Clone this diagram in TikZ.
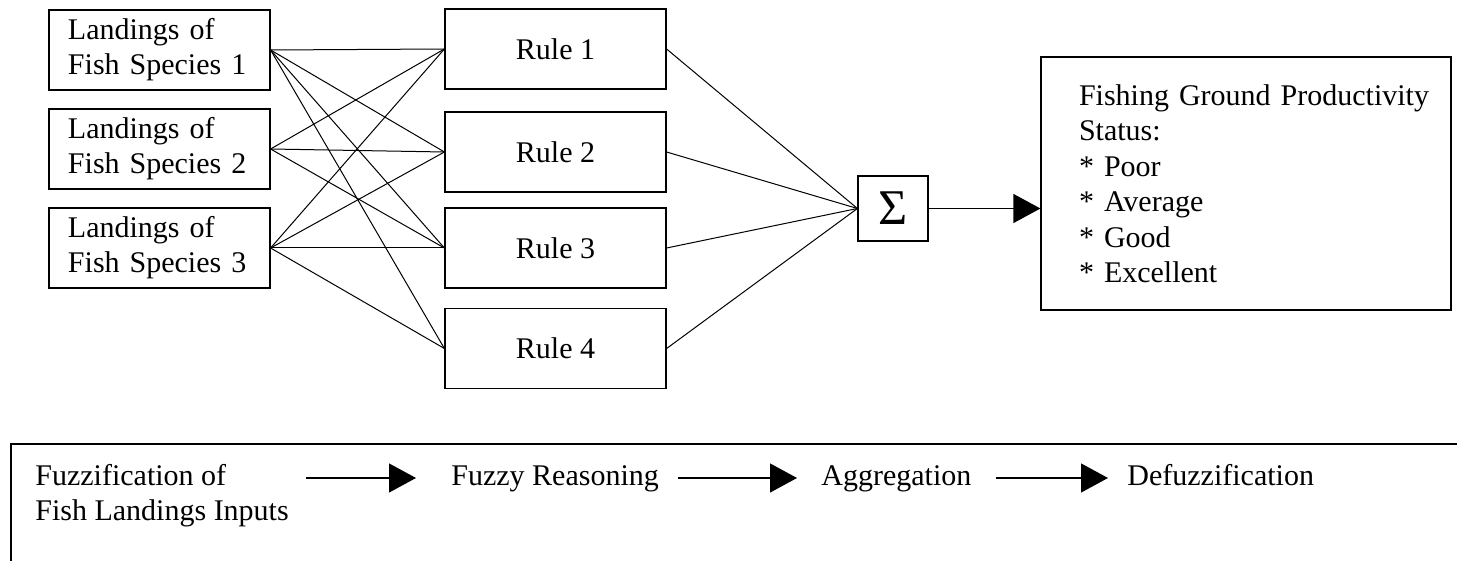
\documentclass[tikz,border=0pt]{standalone}
\usepackage{fontspec}
\setmainfont{Liberation Serif}
\usetikzlibrary{arrows.meta}

\begin{document}
\begin{tikzpicture}[x=0.5pt, y=-0.5pt,
  every node/.style={font=\fontsize{15pt}{17.5pt}\selectfont},
  box/.style={shape=rectangle, draw, line width=0.6pt},
  inbox/.style={box, minimum height=40pt, text width=91.5pt, inner xsep=9.5pt, inner ysep=2pt, align=left},
  rulebox/.style={box, minimum width=110.5pt, minimum height=40pt},
  flow/.style={-{Triangle[length=13.5pt, width=14.5pt]}, line width=0.6pt},
  link/.style={line width=0.5pt},
  stage/.style={anchor=base west, inner sep=0pt}]
\useasboundingbox (0, 0) rectangle (1457, 561);
\node at (159.5, 50) [inbox] (in1) {Landings of\\Fish Species 1};
\node at (159.5, 149) [inbox] (in2) {Landings of\\Fish Species 2};
\node at (159.5, 248) [inbox] (in3) {Landings of\\Fish Species 3};
\node at (555.5, 49) [rulebox] (r1) {Rule 1};
\node at (555.5, 152) [rulebox] (r2) {Rule 2};
\node at (555.5, 248) [rulebox] (r3) {Rule 3};
\node at (555.5, 348.5) [rulebox] (r4) {Rule 4};
\node at (893, 208.5) [box, minimum width=35pt, minimum height=32.5pt, inner sep=0pt, font=\fontsize{25pt}{25pt}\selectfont] (sum) {Σ};
\node at (1246, 183.5) [box, minimum height=126.5pt, text width=167pt, inner xsep=19pt, align=left, font=\fontsize{15pt}{17.75pt}\selectfont] (status) {\mbox{Fishing Ground Productivity}\\Status:\\{*} Poor\\{*} Average\\{*} Good\\{*} Excellent};
\foreach \i/\j in {1/1, 1/2, 1/3, 1/4, 2/1, 2/2, 2/3, 3/1, 3/2, 3/3, 3/4}
  \draw [link] (in\i.east) to (r\j.west);
\foreach \j in {1,...,4}
  \draw [link] (r\j.east) to (sum.west);
\draw [flow] (sum.east) to (sum.east -| status.west);
% stages of the inference
\draw [line width=0.6pt] (11, 561) -- (11, 444) -- (1457, 444);
\node at (35, 520) [stage, align=left] (fuzz) {Fuzzification of\\Fish Landings Inputs};
\node at (451, 485) [stage] (reason) {Fuzzy Reasoning};
\node at (821, 485) [stage] (aggr) {Aggregation};
\node at (1127, 485) [stage] (defuzz) {Defuzzification};
\coordinate (s1) at (306, 478);
\coordinate (s2) at (678, 478);
\coordinate (s3) at (996, 478);
\draw [flow, shorten >=17.5pt] (s1) -- (s1 -| reason.west);
\draw [flow, shorten >=12pt] (s2) -- (s2 -| aggr.west);
\draw [flow, shorten >=9.5pt] (s3) -- (s3 -| defuzz.west);
\end{tikzpicture}
\end{document}
